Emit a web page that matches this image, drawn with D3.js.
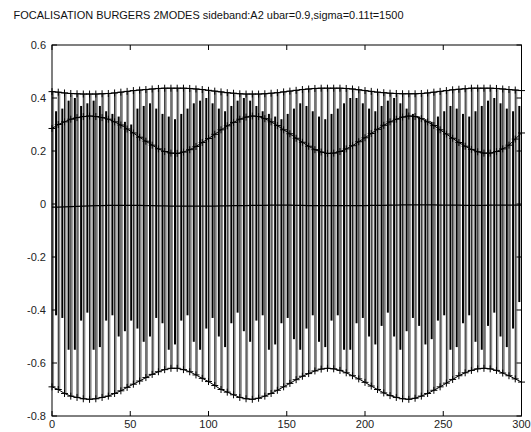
<!DOCTYPE html>
<html><head><meta charset="utf-8">
<script src="https://cdn.jsdelivr.net/npm/d3@7"></script>
<style>body{margin:0;background:#fff}svg{display:block}</style>
</head><body>
<script>
// ---- data ----
const titleText = "FOCALISATION  BURGERS 2MODES sideband:A2 ubar=0.9,sigma=0.11t=1500";
const xTicks = [0, 50, 100, 150, 200, 250, 300];
const yTicks = [0.6, 0.4, 0.2, 0, -0.2, -0.4, -0.6, -0.8];
const markerX = d3.range(0, 301, 4);
const topEnv = [0.424,0.422,0.419,0.417,0.416,0.415,0.415,0.415,0.416,0.417,
0.419,0.422,0.425,0.428,0.43,0.432,0.434,0.436,0.437,0.437,
0.437,0.437,0.436,0.434,0.432,0.429,0.426,0.423,0.42,0.418,
0.416,0.415,0.415,0.415,0.416,0.418,0.42,0.423,0.426,0.429,
0.432,0.434,0.436,0.437,0.437,0.437,0.437,0.436,0.434,0.431,
0.428,0.425,0.422,0.42,0.418,0.417,0.416,0.416,0.416,0.417,
0.419,0.422,0.425,0.428,0.431,0.433,0.435,0.437,0.437,0.437,
0.437,0.436,0.434,0.432,0.43,0.428];
const midEnv = [0.285,0.30,0.31,0.32,0.326,0.33,0.332,0.33,0.326,0.32,
0.31,0.298,0.283,0.268,0.252,0.237,0.222,0.208,0.198,0.192,
0.191,0.196,0.205,0.217,0.232,0.247,0.263,0.28,0.295,0.308,
0.32,0.328,0.332,0.33,0.322,0.31,0.296,0.28,0.265,0.248,
0.233,0.218,0.205,0.196,0.191,0.192,0.198,0.208,0.22,0.235,
0.25,0.266,0.282,0.297,0.31,0.32,0.328,0.332,0.33,0.322,
0.31,0.296,0.28,0.264,0.248,0.232,0.218,0.206,0.197,0.192,
0.192,0.198,0.208,0.222,0.245,0.268];
const zeroEnv = [-0.012,-0.012,-0.011,-0.010,-0.009,-0.008,-0.007,-0.006,-0.006,-0.005,
-0.005,-0.005,-0.005,-0.005,-0.005,-0.006,-0.006,-0.007,-0.007,-0.008,
-0.008,-0.008,-0.008,-0.008,-0.008,-0.008,-0.008,-0.007,-0.007,-0.006,
-0.006,-0.006,-0.005,-0.005,-0.005,-0.004,-0.004,-0.004,-0.004,-0.005,
-0.005,-0.006,-0.006,-0.006,-0.006,-0.006,-0.006,-0.006,-0.006,-0.006,
-0.006,-0.005,-0.005,-0.005,-0.004,-0.004,-0.003,-0.003,-0.003,-0.003,
-0.003,-0.003,-0.004,-0.004,-0.004,-0.004,-0.005,-0.005,-0.005,-0.005,
-0.004,-0.004,-0.004,-0.004,-0.004,-0.004];
const botEnv = [-0.69,-0.70,-0.715,-0.725,-0.73,-0.735,-0.737,-0.735,-0.73,-0.725,
-0.715,-0.705,-0.692,-0.68,-0.668,-0.655,-0.643,-0.633,-0.625,-0.62,
-0.62,-0.625,-0.633,-0.645,-0.658,-0.67,-0.685,-0.70,-0.71,-0.72,
-0.73,-0.735,-0.737,-0.733,-0.725,-0.715,-0.703,-0.69,-0.677,-0.663,
-0.65,-0.64,-0.63,-0.623,-0.62,-0.622,-0.628,-0.637,-0.648,-0.66,
-0.673,-0.687,-0.70,-0.713,-0.723,-0.73,-0.735,-0.737,-0.733,-0.725,
-0.715,-0.703,-0.69,-0.676,-0.662,-0.648,-0.637,-0.628,-0.622,-0.62,
-0.622,-0.628,-0.638,-0.648,-0.66,-0.672];
const blackTop = [0.35,0.36,0.39,0.40,0.37,0.38,0.39,0.37,0.35,0.34,
0.33,0.31,0.30,0.36,0.37,0.38,0.36,0.34,0.33,0.32,
0.34,0.36,0.38,0.39,0.40,0.38,0.36,0.35,0.37,0.39,
0.40,0.39,0.37,0.35,0.34,0.33,0.32,0.34,0.36,0.38,
0.37,0.35,0.33,0.32,0.34,0.36,0.38,0.40,0.40,0.38,
0.36,0.35,0.37,0.39,0.40,0.38,0.36,0.34,0.33,0.32,
0.31,0.33,0.35,0.37,0.36,0.34,0.33,0.35,0.37,0.39,
0.40,0.38,0.36,0.35,0.37];
const blackBot = [-0.42,-0.43,-0.55,-0.55,-0.44,-0.41,-0.55,-0.54,-0.44,-0.42,
-0.50,-0.48,-0.44,-0.47,-0.52,-0.50,-0.43,-0.45,-0.55,-0.53,
-0.44,-0.42,-0.52,-0.55,-0.47,-0.43,-0.50,-0.54,-0.45,-0.41,
-0.48,-0.52,-0.44,-0.42,-0.55,-0.53,-0.45,-0.43,-0.51,-0.55,
-0.47,-0.42,-0.52,-0.54,-0.44,-0.42,-0.55,-0.55,-0.45,-0.43,
-0.50,-0.53,-0.46,-0.41,-0.50,-0.55,-0.48,-0.43,-0.46,-0.53,
-0.51,-0.44,-0.42,-0.55,-0.54,-0.45,-0.42,-0.52,-0.55,-0.46,
-0.41,-0.50,-0.54,-0.47,-0.37];

// ---- layout ----
const W = 531, H = 432;
const L = 52, R = 521.5, T = 45, B = 416;
const svg = d3.select("body").append("svg").attr("width", W).attr("height", H);
const x = d3.scaleLinear().domain([0, 300]).range([L, R]);
const y = d3.scaleLinear().domain([-0.8, 0.6]).range([B, T]);
const font = "'Liberation Sans', Arial, sans-serif";

svg.append("text").attr("x", 13.5).attr("y", 19).attr("font-family", font)
  .attr("font-size", 10.5).attr("fill", "#111")
  .attr("textLength", 390).attr("lengthAdjust", "spacingAndGlyphs").text(titleText);

const plot = svg.append("g");
const periods = d3.range(markerX.length - 1);

// gray full-height strokes
plot.selectAll("line.g").data(periods).join("line").attr("class", "g")
  .attr("x1", i => x(markerX[i] + 0.8)).attr("x2", i => x(markerX[i] + 0.8))
  .attr("y1", i => y(topEnv[i])).attr("y2", i => y(botEnv[i]))
  .attr("stroke", "#8c8c8c").attr("stroke-width", 1.6);
// thin black strokes through the markers, top to bottom envelope
plot.selectAll("line.t").data(periods).join("line").attr("class", "t")
  .attr("x1", i => x(markerX[i])).attr("x2", i => x(markerX[i]))
  .attr("y1", i => y(topEnv[i])).attr("y2", i => y(botEnv[i]))
  .attr("stroke", "#000").attr("stroke-width", 0.9);
// black partial strokes
plot.selectAll("line.b").data(periods).join("line").attr("class", "b")
  .attr("x1", i => x(markerX[i] + 2.6)).attr("x2", i => x(markerX[i] + 2.6))
  .attr("y1", i => y(blackTop[i])).attr("y2", i => y(blackBot[i]))
  .attr("stroke", "#000").attr("stroke-width", 2);

// envelope lines with + markers
const envs = [topEnv, midEnv, botEnv];
const line = d3.line().x((d, i) => x(markerX[i])).y(d => y(d));
envs.forEach(env => {
  plot.append("path").attr("d", line(env)).attr("fill", "none")
    .attr("stroke", "#000").attr("stroke-width", 1);
  plot.selectAll(null).data(env).join("path")
    .attr("d", (d, i) => {
      const cx = x(markerX[i]), cy = y(d);
      return `M${cx - 3.5},${cy}H${cx + 3.5}M${cx},${cy - 3.5}V${cy + 3.5}`;
    })
    .attr("stroke", "#000").attr("stroke-width", 1);
});
plot.append("path").attr("d", line(zeroEnv)).attr("fill", "none")
  .attr("stroke", "#000").attr("stroke-width", 1.2);

// axes box with inward ticks
const ax = svg.append("g").attr("stroke", "#000").attr("stroke-width", 1);
ax.append("rect").attr("x", L).attr("y", T).attr("width", R - L).attr("height", B - T)
  .attr("fill", "none");
xTicks.forEach(t => {
  ax.append("line").attr("x1", x(t)).attr("x2", x(t)).attr("y1", B).attr("y2", B - 5);
  ax.append("line").attr("x1", x(t)).attr("x2", x(t)).attr("y1", T).attr("y2", T + 5);
});
yTicks.forEach(t => {
  ax.append("line").attr("x1", L).attr("x2", L + 5).attr("y1", y(t)).attr("y2", y(t));
  ax.append("line").attr("x1", R).attr("x2", R - 5).attr("y1", y(t)).attr("y2", y(t));
});
svg.selectAll("text.xt").data(xTicks).join("text").attr("class", "xt")
  .attr("x", d => x(d)).attr("y", 428).attr("text-anchor", "middle")
  .attr("font-family", font).attr("font-size", 11).attr("fill", "#222")
  .text(d => d3.format("")(d));
svg.selectAll("text.yt").data(yTicks).join("text").attr("class", "yt")
  .attr("x", 46).attr("y", d => y(d) + 4).attr("text-anchor", "end")
  .attr("font-family", font).attr("font-size", 11).attr("fill", "#222")
  .text(d => d === 0 ? "0" : d3.format("")(d).replace("−", "-"));
</script>
</body></html>
